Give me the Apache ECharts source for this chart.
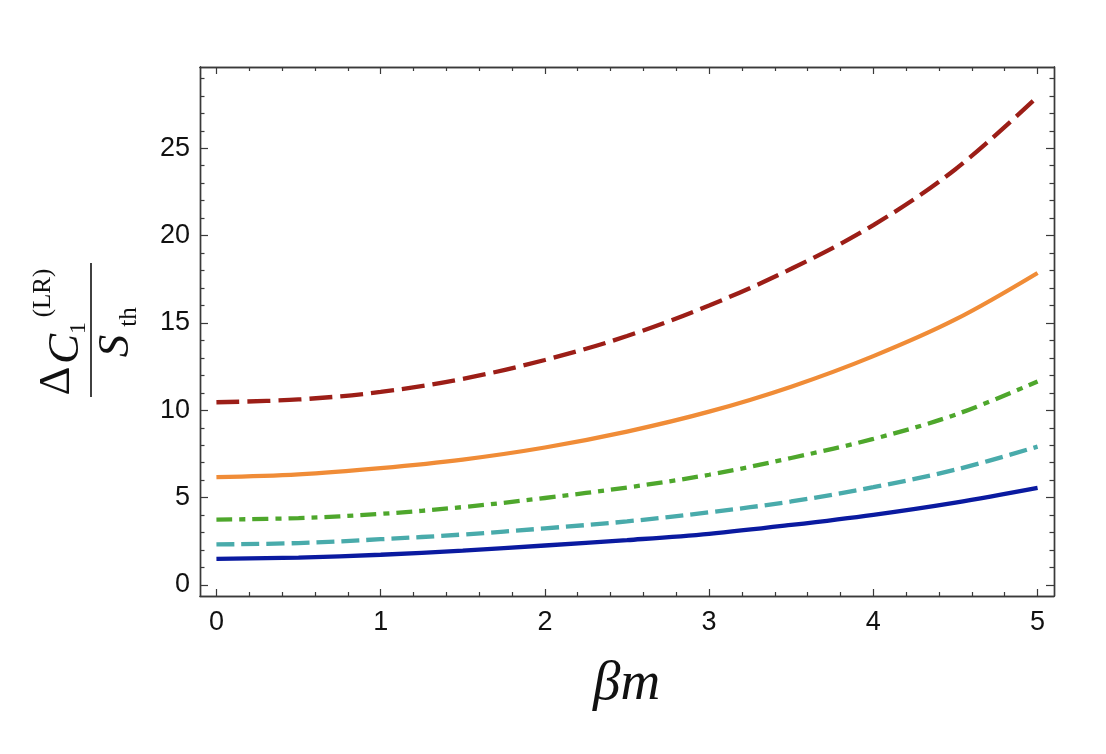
<!DOCTYPE html>
<html lang="en">
<head>
  <meta charset="UTF-8">
  <title>ΔC1 / S_th vs βm</title>
  <script src="https://cdn.jsdelivr.net/npm/echarts@6/dist/echarts.min.js"></script>
  <style>
    html, body { margin: 0; padding: 0; background: #fff; }
    #main { width: 1106px; height: 754px; }
  </style>
</head>
<body>
<div id="main"></div>
<script>
  var betaM   = [0, 0.5, 1, 1.5, 2, 2.5, 3, 3.5, 4, 4.5, 5]
  var redDash = [10.46, 10.62, 11.05, 11.8, 12.88, 14.25, 16.0, 18.1, 20.6, 23.8, 27.95]
  var orange  = [6.17, 6.33, 6.69, 7.18, 7.87, 8.78, 9.92, 11.35, 13.1, 15.2, 17.86]
  var greenDD = [3.74, 3.83, 4.07, 4.46, 4.98, 5.58, 6.31, 7.27, 8.36, 9.75, 11.65]
  var tealDash = [2.32, 2.40, 2.62, 2.89, 3.24, 3.64, 4.16, 4.78, 5.60, 6.6, 7.92]
  var blue    = [1.49, 1.57, 1.73, 1.97, 2.26, 2.57, 2.93, 3.44, 4.02, 4.72, 5.56]

  var xMajor = [0, 1, 2, 3, 4, 5]
  var yMajor = [0, 5, 10, 15, 20, 25]
  var xMinor = []
  for (var i = 1; i < 25; i++) { if (i % 5 !== 0) xMinor.push(i / 5) }
  var yMinor = []
  for (var j = 1; j <= 29; j++) { if (j % 5 !== 0) yMinor.push(j) }

  var X_MIN = -0.1, X_MAX = 5.1, Y_MIN = -0.63, Y_MAX = 29.65
  var frame = '#3a3a3a'
  var numFont = 'Liberation Sans'
  var mathFont = 'Liberation Serif'

  function pairs(ys) {
    return betaM.map(function (x, k) { return [x, ys[k]] })
  }

  function xAx(pos, ticks, len, labels) {
    return {
      type: 'value', position: pos, min: X_MIN, max: X_MAX,
      axisLine: { show: true, onZero: false, lineStyle: { color: frame, width: 1.4 } },
      axisTick: { show: true, inside: true, length: len, customValues: ticks,
        lineStyle: { color: frame, width: 1.2 } },
      axisLabel: labels ? { show: true, customValues: ticks, margin: 13,
        fontFamily: numFont, fontSize: 27, color: '#111' } : { show: false },
      splitLine: { show: false }
    }
  }
  function yAx(pos, ticks, len, labels) {
    return {
      type: 'value', position: pos, min: Y_MIN, max: Y_MAX,
      axisLine: { show: true, onZero: false, lineStyle: { color: frame, width: 1.4 } },
      axisTick: { show: true, inside: true, length: len, customValues: ticks,
        lineStyle: { color: frame, width: 1.2 } },
      axisLabel: labels ? { show: true, customValues: ticks, margin: 10,
        fontFamily: numFont, fontSize: 27, color: '#111' } : { show: false },
      splitLine: { show: false }
    }
  }

  function line(name, ys, color, dash) {
    return {
      name: name, type: 'line', smooth: 0.35, showSymbol: false,
      xAxisIndex: 0, yAxisIndex: 0,
      data: pairs(ys),
      lineStyle: { color: color, width: 4.3, type: dash || 'solid', cap: 'butt' },
      animation: false
    }
  }

  var myChart = echarts.init(document.getElementById('main'))
  var option = {
    backgroundColor: '#fff',
    animation: false,
    grid: { left: 200, right: 52, top: 67, bottom: 158, containLabel: false },
    xAxis: [
      xAx('bottom', xMajor, 7, true),
      xAx('bottom', xMinor, 4, false),
      xAx('top', xMajor, 7, false),
      xAx('top', xMinor, 4, false)
    ],
    yAxis: [
      yAx('left', yMajor, 8, true),
      yAx('left', yMinor, 4.5, false),
      yAx('right', yMajor, 8, false),
      yAx('right', yMinor, 4.5, false)
    ],
    series: [
      line('red', redDash, '#9c1e17', [23, 8]),
      line('orange', orange, '#f08c37'),
      line('green', greenDD, '#4ea72c', [16, 7, 6, 7]),
      line('teal', tealDash, '#49abab', [18, 7]),
      line('blue', blue, '#0a1aa0')
    ],
    graphic: [
      {
        type: 'text', left: 593, top: 657,
        style: { text: 'βm', font: 'italic 55px ' + mathFont, fill: '#111' }
      },
      {
        // y-axis title: fraction, rotated so it reads bottom to top
        type: 'group', x: 91, y: 330, rotation: Math.PI / 2,
        children: [
          { type: 'line', shape: { x1: -67, y1: 0, x2: 67, y2: 0 },
            style: { stroke: '#111', lineWidth: 1.6 } },
          { type: 'text', x: -51, y: -34,
            style: { text: 'Δ', font: '45px ' + mathFont, fill: '#111', align: 'center', verticalAlign: 'middle' } },
          { type: 'text', x: -19, y: -25,
            style: { text: 'C', font: 'italic 45px ' + mathFont, fill: '#111', align: 'center', verticalAlign: 'middle' } },
          { type: 'text', x: 2, y: -12,
            style: { text: '1', font: '24px ' + mathFont, fill: '#111', align: 'center', verticalAlign: 'middle' } },
          { type: 'text', x: 37, y: -48,
            style: { text: '(LR)', font: '25px ' + mathFont, fill: '#111', align: 'center', verticalAlign: 'middle' } },
          { type: 'text', x: -16, y: 25,
            style: { text: 'S', font: 'italic 45px ' + mathFont, fill: '#111', align: 'center', verticalAlign: 'middle' } },
          { type: 'text', x: 13, y: 38,
            style: { text: 'th', font: '25px ' + mathFont, fill: '#111', align: 'center', verticalAlign: 'middle' } }
        ]
      }
    ]
  }
  myChart.setOption(option)
</script>
</body>
</html>
